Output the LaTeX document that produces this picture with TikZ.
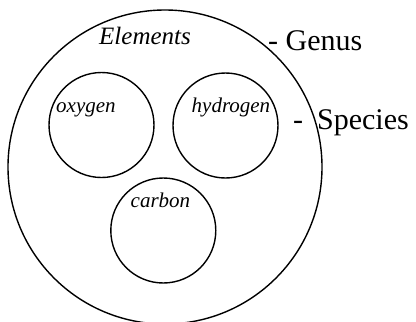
\documentclass[tikz,border=0pt]{standalone}
\usepackage{fontspec}
\setmainfont{Liberation Serif}
\begin{document}
\begin{tikzpicture}[x=1pt,y=-1pt,
  ring/.style={draw, circle, line width=1.4pt, inner sep=0pt},
  lbl/.style={inner sep=0pt, anchor=base west},
  small/.style={lbl, font=\fontsize{21}{24}\selectfont\itshape},
  big/.style={lbl, font=\fontsize{30}{34}\selectfont}]
\useasboundingbox (0,0) rectangle (416,322);
\node[ring, minimum size=314pt] (genus) at (165,167) {};
\node[ring, minimum size=105pt] (oxy) at (101.5,125) {};
\node[ring, minimum size=105pt] (hyd) at (225.5,125.5) {};
\node[ring, minimum size=105pt] (car) at (163.3,230.5) {};
\node[lbl, font=\fontsize{25}{28}\selectfont\itshape] (el) at (99,44) {Elements};
\node[small] (ox) at (56,112.5) {oxygen};
\node[small] (hy) at (191.5,112.5) {hydrogen};
\node[small] (ca) at (130.5,207) {carbon};
\node[big] (gen) at (268,50) {- Genus};
\node[big] (spe) at (293,129) {-\hspace{14pt}Species};
\end{tikzpicture}
\end{document}
